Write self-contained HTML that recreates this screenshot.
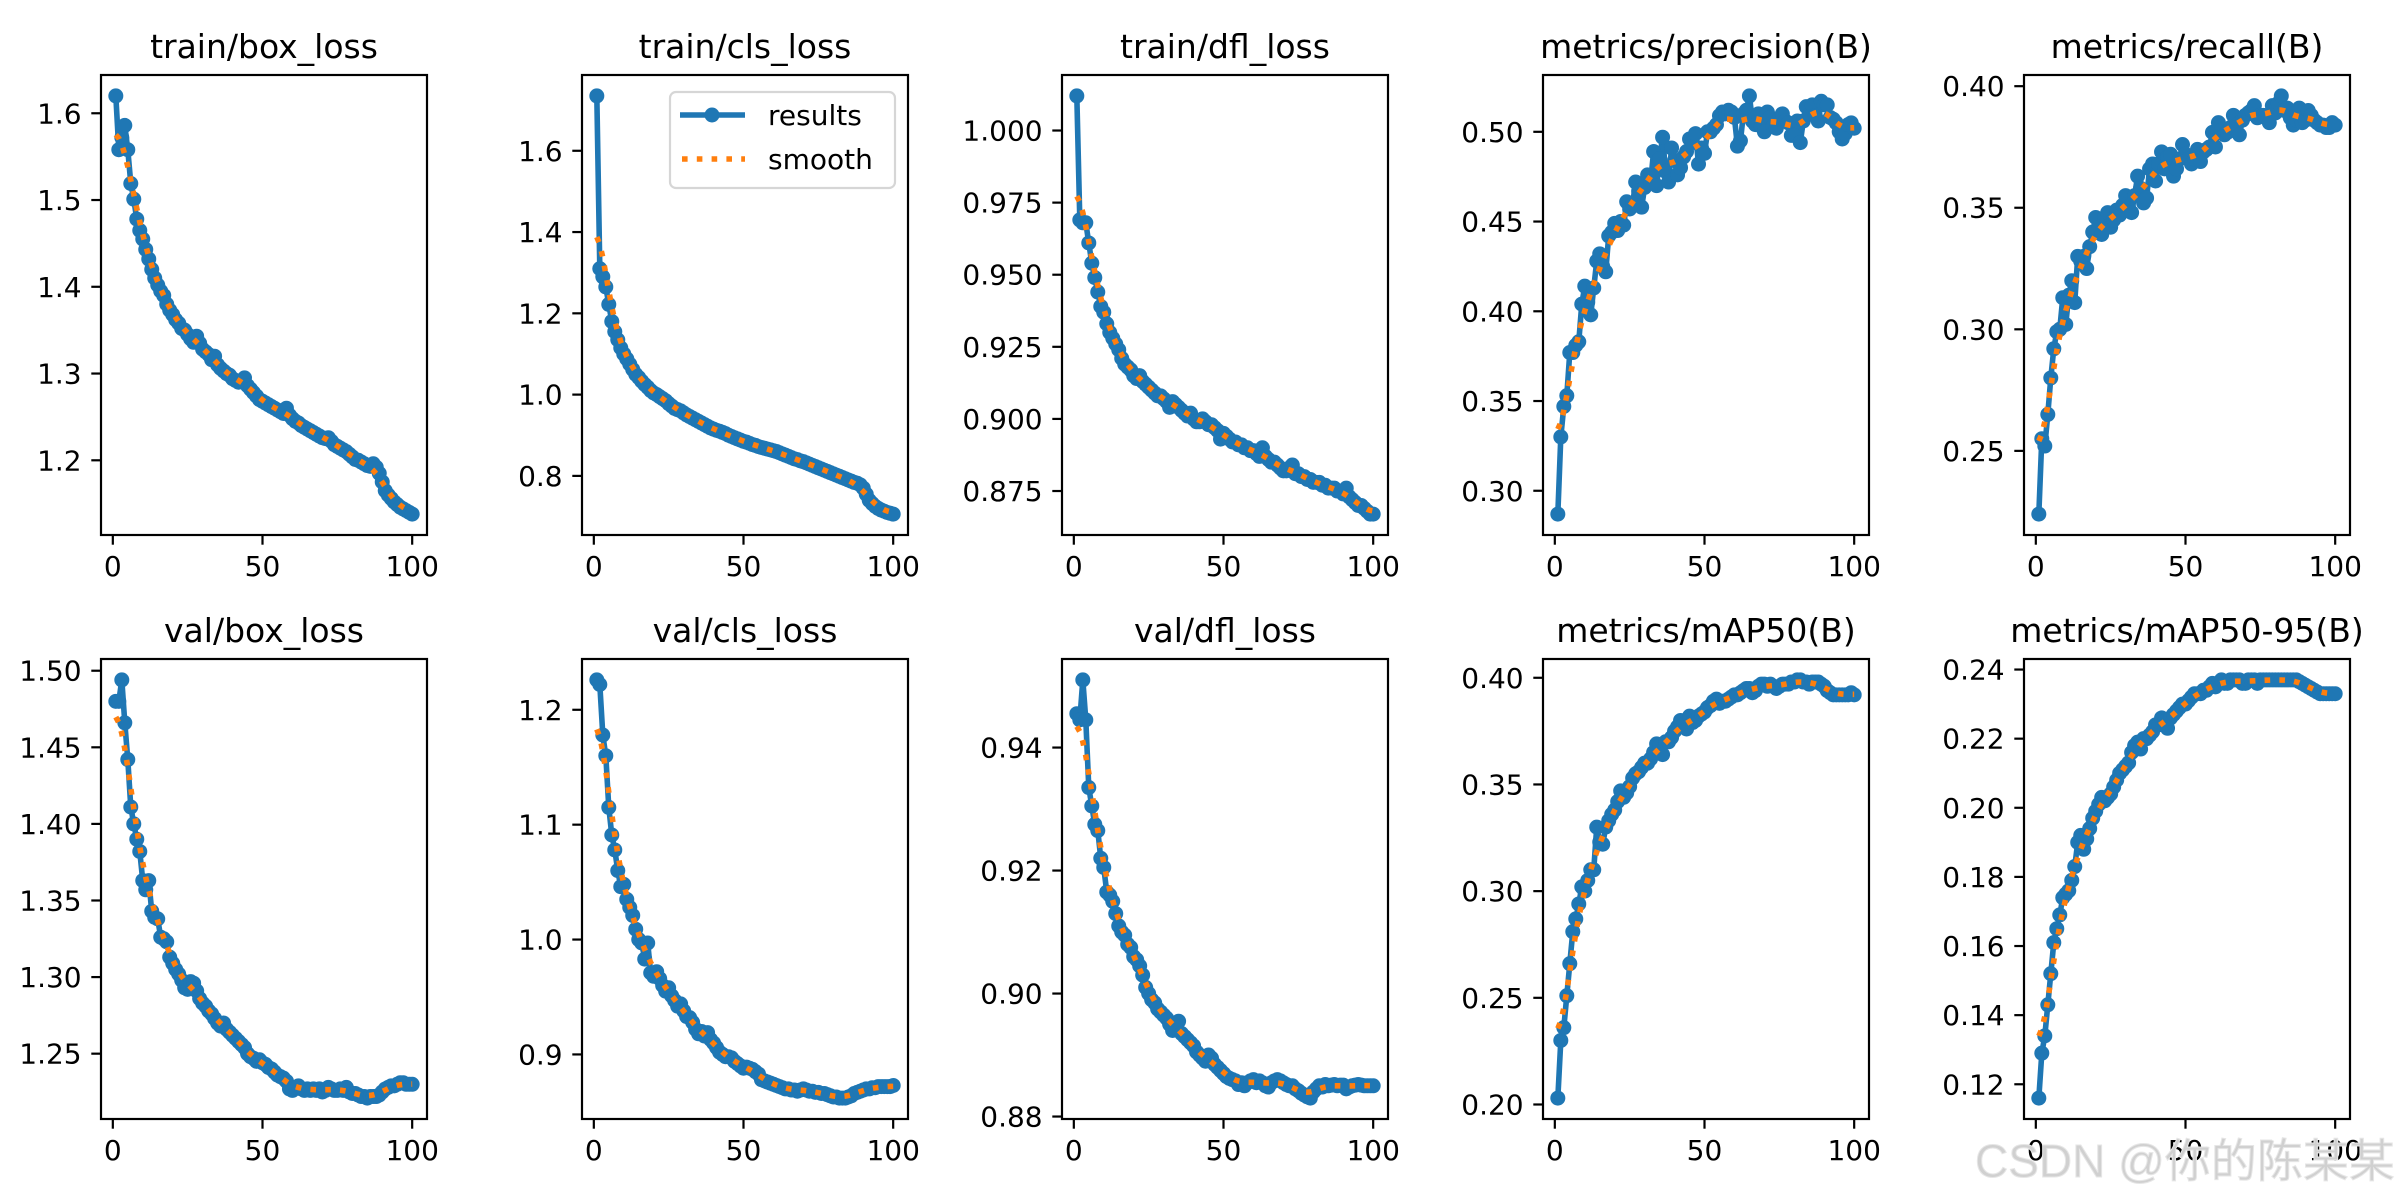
<!DOCTYPE html>
<html><head><meta charset="utf-8"><style>
html,body{margin:0;padding:0;background:#fff;}
svg{display:block;font-family:"DejaVu Sans","Liberation Sans",sans-serif;}
</style></head><body>
<svg id="fig" width="2400" height="1200" viewBox="0 0 2400 1200" xmlns="http://www.w3.org/2000/svg">
<rect width="2400" height="1200" fill="#fff"/>
<text x="1975" y="1177" font-size="46" fill="#d0d0d0" stroke="#e6e6e6" stroke-width="1" font-family="'Liberation Sans','Noto Sans CJK SC',sans-serif">CSDN @你的陈某某</text>
</svg>
<script>
const titles = ["train/box_loss","train/cls_loss","train/dfl_loss","metrics/precision(B)","metrics/recall(B)","val/box_loss","val/cls_loss","val/dfl_loss","metrics/mAP50(B)","metrics/mAP50-95(B)"];
const xTicks = [0,50,100];
const trainBox = [1.620,1.558,1.572,1.586,1.558,1.519,1.501,1.478,1.465,1.455,1.443,1.432,1.420,1.410,1.402,1.395,1.390,1.380,1.373,1.368,1.362,1.358,1.352,1.350,1.345,1.340,1.336,1.343,1.335,1.328,1.325,1.322,1.316,1.320,1.310,1.306,1.303,1.300,1.298,1.294,1.292,1.290,1.292,1.295,1.286,1.282,1.278,1.274,1.270,1.268,1.266,1.264,1.262,1.260,1.258,1.256,1.254,1.260,1.252,1.248,1.245,1.243,1.240,1.238,1.236,1.234,1.232,1.230,1.228,1.226,1.225,1.226,1.222,1.218,1.216,1.214,1.212,1.210,1.207,1.204,1.201,1.200,1.198,1.196,1.194,1.193,1.196,1.192,1.185,1.175,1.165,1.160,1.156,1.152,1.149,1.146,1.144,1.142,1.140,1.138];
const trainCls = [1.735,1.310,1.290,1.265,1.222,1.180,1.155,1.135,1.115,1.100,1.088,1.075,1.062,1.050,1.042,1.033,1.025,1.018,1.010,1.004,1.000,0.995,0.990,0.985,0.978,0.972,0.966,0.963,0.960,0.955,0.950,0.946,0.942,0.938,0.934,0.930,0.926,0.922,0.918,0.915,0.912,0.910,0.907,0.904,0.900,0.897,0.894,0.891,0.888,0.885,0.883,0.880,0.877,0.875,0.872,0.870,0.868,0.866,0.864,0.862,0.860,0.857,0.854,0.851,0.848,0.845,0.842,0.840,0.837,0.835,0.832,0.829,0.826,0.823,0.820,0.817,0.814,0.811,0.808,0.805,0.802,0.799,0.796,0.793,0.790,0.787,0.784,0.782,0.778,0.770,0.755,0.740,0.732,0.725,0.720,0.716,0.713,0.710,0.708,0.706];
const trainDfl = [1.012,0.969,0.968,0.968,0.961,0.954,0.949,0.944,0.939,0.937,0.933,0.930,0.928,0.926,0.924,0.921,0.919,0.918,0.917,0.915,0.914,0.915,0.913,0.912,0.911,0.910,0.909,0.908,0.908,0.907,0.906,0.904,0.906,0.905,0.904,0.903,0.902,0.901,0.902,0.900,0.899,0.899,0.900,0.899,0.898,0.898,0.897,0.896,0.893,0.895,0.894,0.893,0.892,0.892,0.891,0.891,0.890,0.890,0.889,0.889,0.888,0.887,0.890,0.887,0.886,0.885,0.885,0.884,0.883,0.882,0.882,0.883,0.884,0.881,0.881,0.880,0.880,0.879,0.879,0.878,0.878,0.878,0.877,0.877,0.876,0.876,0.876,0.875,0.875,0.874,0.876,0.873,0.872,0.871,0.870,0.870,0.869,0.868,0.867,0.867];
const precision = [0.287,0.330,0.347,0.353,0.377,0.377,0.381,0.383,0.404,0.414,0.405,0.398,0.413,0.428,0.432,0.425,0.422,0.442,0.444,0.449,0.445,0.450,0.448,0.461,0.457,0.460,0.472,0.467,0.458,0.469,0.476,0.472,0.489,0.470,0.485,0.497,0.478,0.472,0.491,0.484,0.476,0.480,0.486,0.489,0.496,0.494,0.499,0.482,0.491,0.488,0.500,0.500,0.502,0.504,0.509,0.511,0.510,0.512,0.511,0.508,0.492,0.495,0.510,0.512,0.520,0.506,0.504,0.510,0.503,0.500,0.511,0.508,0.503,0.502,0.507,0.510,0.506,0.505,0.498,0.498,0.506,0.494,0.506,0.514,0.510,0.515,0.509,0.506,0.517,0.515,0.515,0.508,0.507,0.505,0.500,0.496,0.499,0.504,0.505,0.502];
const recall = [0.224,0.255,0.252,0.265,0.280,0.292,0.299,0.300,0.313,0.302,0.314,0.320,0.311,0.330,0.328,0.330,0.325,0.334,0.340,0.346,0.342,0.339,0.346,0.348,0.342,0.345,0.349,0.347,0.351,0.355,0.350,0.348,0.355,0.363,0.358,0.352,0.354,0.366,0.368,0.361,0.368,0.373,0.366,0.371,0.372,0.363,0.366,0.370,0.376,0.372,0.370,0.368,0.370,0.374,0.369,0.373,0.374,0.375,0.381,0.375,0.385,0.382,0.380,0.381,0.383,0.388,0.384,0.380,0.386,0.388,0.389,0.390,0.392,0.387,0.388,0.388,0.387,0.385,0.392,0.389,0.393,0.396,0.390,0.391,0.387,0.384,0.386,0.391,0.385,0.386,0.390,0.388,0.386,0.385,0.384,0.384,0.383,0.383,0.385,0.384];
const valBox = [1.480,1.480,1.494,1.466,1.442,1.411,1.400,1.390,1.382,1.363,1.357,1.363,1.343,1.339,1.338,1.326,1.325,1.323,1.313,1.309,1.305,1.302,1.298,1.293,1.292,1.297,1.296,1.291,1.286,1.283,1.281,1.278,1.276,1.273,1.270,1.268,1.270,1.266,1.264,1.262,1.260,1.258,1.256,1.254,1.250,1.248,1.247,1.245,1.246,1.244,1.243,1.241,1.240,1.238,1.236,1.235,1.234,1.232,1.227,1.226,1.228,1.229,1.227,1.226,1.227,1.226,1.227,1.226,1.227,1.225,1.226,1.228,1.227,1.226,1.226,1.227,1.226,1.228,1.225,1.224,1.224,1.223,1.222,1.222,1.221,1.222,1.222,1.222,1.223,1.225,1.227,1.228,1.229,1.229,1.230,1.231,1.231,1.230,1.230,1.230];
const valCls = [1.226,1.222,1.178,1.160,1.115,1.091,1.078,1.060,1.046,1.048,1.035,1.028,1.021,1.009,1.000,0.997,0.983,0.997,0.971,0.968,0.972,0.966,0.960,0.955,0.958,0.951,0.947,0.942,0.944,0.938,0.933,0.932,0.928,0.922,0.918,0.920,0.916,0.919,0.913,0.910,0.906,0.902,0.900,0.898,0.898,0.897,0.894,0.892,0.890,0.888,0.889,0.888,0.887,0.885,0.883,0.878,0.877,0.876,0.875,0.874,0.873,0.872,0.871,0.870,0.870,0.869,0.869,0.868,0.869,0.870,0.869,0.868,0.868,0.867,0.867,0.866,0.866,0.865,0.864,0.863,0.863,0.862,0.862,0.862,0.863,0.864,0.866,0.867,0.868,0.869,0.870,0.870,0.871,0.871,0.872,0.872,0.872,0.872,0.872,0.873];
const valDfl = [0.9455,0.9445,0.9510,0.9445,0.9335,0.9305,0.9275,0.9265,0.9220,0.9205,0.9165,0.9160,0.9150,0.9130,0.9110,0.9100,0.9095,0.9080,0.9075,0.9060,0.9055,0.9045,0.9030,0.9010,0.9000,0.8990,0.8985,0.8975,0.8970,0.8965,0.8960,0.8950,0.8940,0.8945,0.8955,0.8935,0.8930,0.8925,0.8920,0.8915,0.8905,0.8900,0.8895,0.8890,0.8900,0.8895,0.8885,0.8880,0.8875,0.8870,0.8865,0.8862,0.8860,0.8858,0.8852,0.8855,0.8850,0.8855,0.8858,0.8860,0.8855,0.8858,0.8855,0.8850,0.8848,0.8855,0.8858,0.8860,0.8858,0.8855,0.8852,0.8850,0.8850,0.8845,0.8842,0.8838,0.8835,0.8832,0.8830,0.8840,0.8845,0.8850,0.8848,0.8852,0.8850,0.8851,0.8852,0.8850,0.8851,0.8851,0.8845,0.8848,0.8850,0.8851,0.8852,0.8851,0.8850,0.8850,0.8850,0.8850];
const map50 = [0.203,0.230,0.236,0.251,0.266,0.281,0.287,0.294,0.302,0.300,0.305,0.310,0.310,0.330,0.323,0.322,0.330,0.333,0.336,0.338,0.342,0.347,0.344,0.346,0.349,0.353,0.355,0.356,0.358,0.360,0.360,0.362,0.365,0.369,0.368,0.364,0.370,0.370,0.372,0.375,0.377,0.380,0.378,0.376,0.382,0.379,0.380,0.382,0.383,0.384,0.386,0.387,0.389,0.390,0.388,0.389,0.389,0.390,0.391,0.392,0.392,0.393,0.394,0.395,0.395,0.393,0.394,0.396,0.397,0.397,0.396,0.397,0.396,0.395,0.396,0.397,0.397,0.397,0.398,0.398,0.399,0.399,0.398,0.398,0.397,0.398,0.398,0.398,0.397,0.396,0.394,0.393,0.392,0.392,0.392,0.392,0.392,0.392,0.393,0.392];
const map5095 = [0.116,0.129,0.134,0.143,0.152,0.161,0.165,0.169,0.174,0.175,0.176,0.179,0.183,0.190,0.192,0.188,0.191,0.194,0.197,0.199,0.201,0.203,0.202,0.203,0.204,0.206,0.208,0.210,0.211,0.212,0.213,0.216,0.218,0.219,0.217,0.220,0.220,0.221,0.222,0.224,0.224,0.226,0.225,0.223,0.226,0.227,0.228,0.229,0.230,0.230,0.231,0.232,0.233,0.233,0.233,0.234,0.234,0.235,0.236,0.235,0.236,0.237,0.236,0.236,0.237,0.237,0.237,0.237,0.236,0.236,0.237,0.237,0.237,0.236,0.237,0.237,0.237,0.237,0.237,0.237,0.237,0.237,0.237,0.237,0.237,0.237,0.237,0.2365,0.236,0.2355,0.235,0.2345,0.234,0.2335,0.233,0.233,0.233,0.233,0.233,0.233];
const yTicks1 = [1.2,1.3,1.4,1.5,1.6];
const yTicks2 = [0.8,1.0,1.2,1.4,1.6];
const yTicks3 = [0.875,0.900,0.925,0.950,0.975,1.000];
const yTicks4 = [0.30,0.35,0.40,0.45,0.50];
const yTicks5 = [0.25,0.30,0.35,0.40];
const yTicks6 = [1.25,1.30,1.35,1.40,1.45,1.50];
const yTicks7 = [0.9,1.0,1.1,1.2];
const yTicks8 = [0.88,0.90,0.92,0.94];
const yTicks9 = [0.20,0.25,0.30,0.35,0.40];
const yTicks10 = [0.12,0.14,0.16,0.18,0.20,0.22,0.24];
const yDecimals = [1,1,3,2,2,2,1,2,2,2];

const series = [trainBox,trainCls,trainDfl,precision,recall,valBox,valCls,valDfl,map50,map5095];
const ticksAll = [yTicks1,yTicks2,yTicks3,yTicks4,yTicks5,yTicks6,yTicks7,yTicks8,yTicks9,yTicks10];

const NS = "http://www.w3.org/2000/svg";
const svg = document.getElementById("fig");
const wm = svg.lastElementChild;
function mk(tag, attrs, parent){const e=document.createElementNS(NS,tag);for(const k in attrs)e.setAttribute(k,attrs[k]);(parent||svg).insertBefore(e, parent?null:wm);return e;}

function gauss(y, sigma){
  const r = Math.round(4*sigma), w=[]; let s=0;
  for(let k=-r;k<=r;k++){const v=Math.exp(-k*k/(2*sigma*sigma));w.push(v);s+=v;}
  const n=y.length, out=[];
  const idx=i=>{while(i<0||i>=n){if(i<0)i=-i-1;if(i>=n)i=2*n-i-1;}return i;};
  for(let i=0;i<n;i++){let a=0;for(let k=-r;k<=r;k++)a+=w[k+r]*y[idx(i+k)];out.push(a/s);}
  return out;
}

const colL=[101,582,1062,1543,2024], W=326, rowT=[75,659], H=460;
series.forEach((ys,p)=>{
  const L=colL[p%5], T=rowT[Math.floor(p/5)];
  const n=ys.length;
  const xmin=1, xmax=n, xm=(xmax-xmin)*0.05;
  const x0=xmin-xm, x1=xmax+xm;
  let ymin=Math.min(...ys), ymax=Math.max(...ys), ymg=(ymax-ymin)*0.05;
  const y0=ymin-ymg, y1=ymax+ymg;
  const X=v=>L+(v-x0)/(x1-x0)*W;
  const Y=v=>T+H-(v-y0)/(y1-y0)*H;
  const g=mk("g",{});
  
  
  const t=mk("text",{x:L+W/2,y:T-17,"font-size":33,"text-anchor":"middle",fill:"#000"},g);
  t.textContent=titles[p];
  
  
  const cid="clip"+p;
  const cp=mk("clipPath",{id:cid},g); mk("rect",{x:L,y:T,width:W,height:H},cp);
  const pts=ys.map((v,i)=>X(i+1).toFixed(2)+","+Y(v).toFixed(2)).join(" ");
  const line=mk("polyline",{points:pts,fill:"none",stroke:"#1f77b4","stroke-width":5.6,"stroke-linejoin":"round","clip-path":`url(#${cid})`},g);
  
  
  ys.forEach((v,i)=>{
    const c=mk("circle",{cx:X(i+1).toFixed(2),cy:Y(v).toFixed(2),r:7.5,fill:"#1f77b4"},g);
    
    
  });
  const sm=gauss(ys,3);
  const sp=mk("polyline",{points:sm.map((v,i)=>X(i+1).toFixed(2)+","+Y(v).toFixed(2)).join(" "),fill:"none",stroke:"#ff7f0e","stroke-width":5.6,"stroke-dasharray":"5.6 9.2","clip-path":`url(#${cid})`},g);
  
  
  const fr=mk("rect",{x:L,y:T,width:W,height:H,fill:"none",stroke:"#000","stroke-width":2.2},g);
  
  
  xTicks.forEach(v=>{
    const xx=X(v);
    mk("line",{x1:xx,x2:xx,y1:T+H,y2:T+H+9.7,stroke:"#000","stroke-width":2.2},g);
    const tx=mk("text",{x:xx,y:T+H+41,"font-size":28,"text-anchor":"middle",fill:"#000"},g);
    tx.textContent=v;
    
    
  });
  ticksAll[p].forEach(v=>{
    if(v<y0||v>y1)return;
    const yy=Y(v);
    mk("line",{x1:L-9.7,x2:L,y1:yy,y2:yy,stroke:"#000","stroke-width":2.2},g);
    const ty=mk("text",{x:L-19.4,y:yy+10,"font-size":28,"text-anchor":"end",fill:"#000"},g);
    ty.textContent=v.toFixed(yDecimals[p]);
    
    
  });
  if(p===1){
    const lg=mk("g",{},g);
    
    
    mk("rect",{x:670,y:92,width:225,height:96,rx:6,fill:"#fff","fill-opacity":0.8,stroke:"#d6d6d6","stroke-width":2.2},lg);
    mk("line",{x1:680,x2:745,y1:115,y2:115,stroke:"#1f77b4","stroke-width":5.6},lg);
    mk("circle",{cx:712,cy:115,r:7.5,fill:"#1f77b4"},lg);
    const a=mk("text",{x:768,y:125,"font-size":28,fill:"#000"},lg);a.textContent="results";
    
    
    mk("line",{x1:682,x2:745,y1:159,y2:159,stroke:"#ff7f0e","stroke-width":5.6,"stroke-dasharray":"5.6 9.2"},lg);
    const b=mk("text",{x:768,y:169,"font-size":28,fill:"#000"},lg);b.textContent="smooth";
    
    
  }
});
</script>
</body></html>
